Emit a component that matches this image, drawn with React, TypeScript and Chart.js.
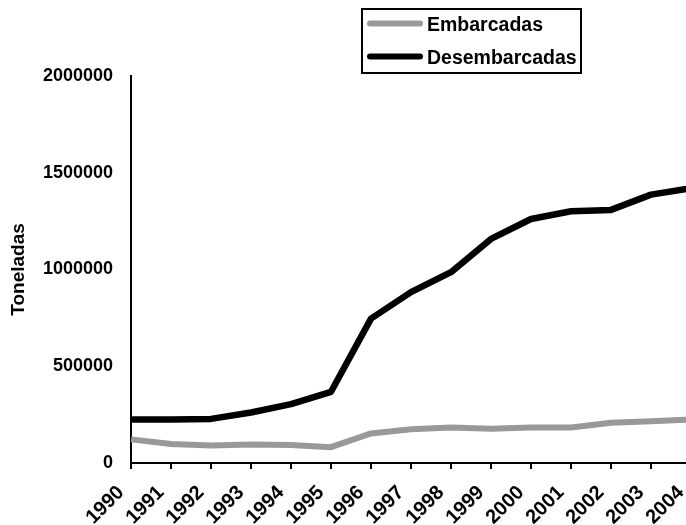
import { useEffect, useRef } from "react";
import { Chart, registerables } from "chart.js";

Chart.register(...registerables);

const years = ["1990", "1991", "1992", "1993", "1994", "1995", "1996", "1997", "1998", "1999", "2000", "2001", "2002", "2003", "2004"];
const embarcadas = [122000, 98000, 91000, 95000, 93000, 82000, 153000, 174000, 184000, 177000, 184000, 184000, 208000, 216000, 225000];
const desembarcadas = [225000, 225000, 228000, 261000, 304000, 368000, 746000, 883000, 986000, 1158000, 1261000, 1301000, 1308000, 1387000, 1420000];
const yMin = 0;
const yMax = 2000000;
const yStep = 500000;
const seriesNames = ["Embarcadas", "Desembarcadas"];
const seriesColors = ["#999999", "#000000"];
const yTitle = "Toneladas";

const FONT = '"Liberation Sans", Arial, Helvetica, sans-serif';

const boxLegend = {
  id: "boxLegend",
  afterDraw(chart: any) {
    const ctx = chart.ctx;
    ctx.save();
    ctx.lineWidth = 2;
    ctx.strokeStyle = "#000";
    ctx.strokeRect(362, 9, 219, 64);
    chart.data.datasets.forEach((ds: any, i: number) => {
      const y = 23.5 + i * 33;
      ctx.beginPath();
      ctx.lineCap = "round";
      ctx.lineWidth = 6;
      ctx.strokeStyle = ds.borderColor;
      ctx.moveTo(370, y);
      ctx.lineTo(420, y);
      ctx.stroke();
      ctx.fillStyle = "#000";
      ctx.font = `bold 19.5px ${FONT}`;
      ctx.textAlign = "left";
      ctx.textBaseline = "middle";
      ctx.fillText(ds.label, 427, y + 2);
    });
    ctx.restore();
  },
};

export default function App() {
  const ref = useRef<HTMLCanvasElement>(null);
  useEffect(() => {
    if (!ref.current) return;
    const chart = new Chart(ref.current, {
      type: "line",
      data: {
        labels: years,
        datasets: [
          {
            label: seriesNames[0],
            data: embarcadas,
            borderColor: seriesColors[0],
            backgroundColor: seriesColors[0],
            borderWidth: 6,
            pointRadius: 0,
            tension: 0,
            borderJoinStyle: "round",
          },
          {
            label: seriesNames[1],
            data: desembarcadas,
            borderColor: seriesColors[1],
            backgroundColor: seriesColors[1],
            borderWidth: 6.5,
            pointRadius: 0,
            tension: 0,
            borderJoinStyle: "round",
          },
        ],
      },
      options: {
        responsive: false,
        animation: false,
        layout: { padding: { left: 0, right: 9, top: 76, bottom: 0 } },
        plugins: {
          legend: { display: false },
          tooltip: { enabled: false },
        },
        scales: {
          x: {
            type: "category",
            offset: false,
            grid: {
              display: true,
              drawOnChartArea: false,
              drawTicks: true,
              tickLength: 6,
              color: "#000",
              lineWidth: 2,
            },
            border: { display: true, color: "#000", width: 2 },
            ticks: {
              autoSkip: false,
              maxRotation: 45,
              minRotation: 45,
              padding: 12,
              labelOffset: -10,
              color: "#000",
              font: { family: FONT, size: 20, weight: "bold" },
            },
            afterFit(scale: any) {
              scale.height = 62;
              scale.paddingLeft = 0;
              scale.paddingRight = 0;
            },
          },
          y: {
            type: "linear",
            min: yMin,
            max: yMax,
            grid: { display: false, drawTicks: false },
            border: { display: true, color: "#000", width: 2 },
            ticks: {
              stepSize: yStep,
              padding: 18,
              color: "#000",
              font: { family: FONT, size: 18, weight: "bold" },
              callback: (v: any) => String(v),
            },
            title: {
              display: true,
              text: yTitle,
              color: "#000",
              padding: { top: 7, bottom: 4 },
              font: { family: FONT, size: 19, weight: "bold" },
            },
            afterFit(scale: any) {
              scale.width = 131;
              scale.paddingTop = 0;
              scale.paddingBottom = 0;
            },
          },
        },
      },
      plugins: [boxLegend],
    });
    return () => chart.destroy();
  }, []);
  return (
    <div style={{ position: "absolute", left: 0, top: 0, width: 686, height: 525, overflow: "hidden", background: "#fff" }}>
      <canvas ref={ref} width={700} height={525} style={{ display: "block" }} />
    </div>
  );
}
